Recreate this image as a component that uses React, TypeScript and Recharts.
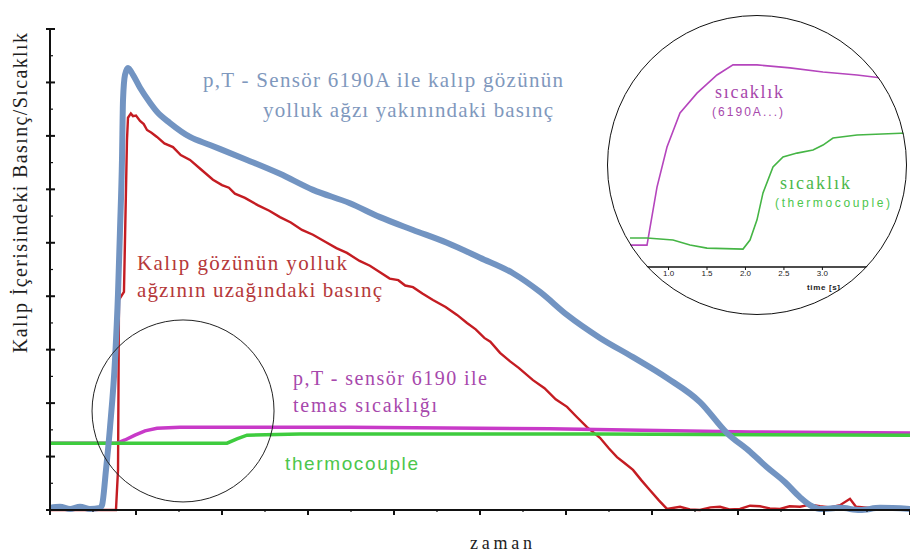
import React from 'react';
import { LineChart, Line, XAxis, YAxis, ReferenceDot } from 'recharts';

// ---------- main chart data (time units 0..10, level units 0..9) ----------
const timeTicks = [0, 0.5, 1, 1.5, 2, 2.5, 3, 3.5, 4, 4.5, 5, 5.5, 6, 6.5, 7, 7.5, 8, 8.5, 9, 9.5, 10];
const levelTicks = [0, 0.5, 1, 1.5, 2, 2.5, 3, 3.5, 4, 4.5, 5, 5.5, 6, 6.5, 7, 7.5, 8, 8.5, 9];

// pressure near the gate (p,T sensor 6190A)
const nearGatePressure: [number, number][] = [
  [0, 0.04], [0.116, 0.06], [0.233, 0.02], [0.349, 0.06], [0.465, 0.02], [0.581, 0.04],
  [0.605, 0.09], [0.651, 0.75], [0.698, 1.55], [0.756, 2.81], [0.791, 4.06], [0.814, 5.24],
  [0.837, 6.55], [0.849, 7.67], [0.872, 8.14], [0.907, 8.27], [0.965, 8.14], [1.047, 7.9],
  [1.163, 7.62], [1.244, 7.45], [1.395, 7.24], [1.628, 6.98], [1.86, 6.83], [2.291, 6.55],
  [2.674, 6.29], [3.058, 5.99], [3.488, 5.74], [3.837, 5.48], [4.221, 5.24], [4.616, 5.0],
  [5.0, 4.72], [5.384, 4.43], [5.698, 4.08], [6.012, 3.65], [6.395, 3.22], [6.779, 2.86],
  [7.174, 2.47], [7.558, 2.02], [7.872, 1.44], [8.14, 1.09], [8.337, 0.8], [8.547, 0.52],
  [8.721, 0.24], [8.86, 0.07], [8.953, 0.02], [9.186, 0.04], [9.419, 0.0], [9.651, 0.04], [10, 0.02],
];

// pressure far from the gate
const farGatePressure: [number, number][] = [
  [0, 0], [0.616, 0], [0.767, 0], [0.791, 0.75], [0.802, 3.93], [0.86, 4.08], [0.895, 6.92],
  [0.907, 7.34], [0.94, 7.42], [0.965, 7.37], [1.0, 7.38], [1.047, 7.28], [1.09, 7.22],
  [1.128, 7.11], [1.18, 7.06], [1.244, 6.98], [1.33, 6.86], [1.43, 6.79], [1.52, 6.64],
  [1.628, 6.55], [1.75, 6.38], [1.895, 6.18], [2.0, 6.08], [2.08, 6.03], [2.15, 5.92],
  [2.267, 5.84], [2.42, 5.7], [2.55, 5.6], [2.674, 5.48], [2.8, 5.38], [2.93, 5.24],
  [3.058, 5.15], [3.2, 5.02], [3.33, 4.9], [3.453, 4.81], [3.6, 4.66], [3.72, 4.57],
  [3.837, 4.45], [3.95, 4.33], [4.05, 4.3], [4.13, 4.2], [4.221, 4.17], [4.33, 4.05],
  [4.453, 3.93], [4.6, 3.8], [4.733, 3.65], [4.849, 3.5], [4.95, 3.38], [5.05, 3.22],
  [5.12, 3.15], [5.233, 2.94], [5.35, 2.78], [5.45, 2.66], [5.616, 2.43], [5.75, 2.28],
  [5.88, 2.07], [6.012, 1.93], [6.12, 1.75], [6.244, 1.55], [6.395, 1.35], [6.5, 1.15],
  [6.593, 0.99], [6.68, 0.88], [6.779, 0.75], [6.88, 0.55], [6.977, 0.37], [7.08, 0.18],
  [7.174, 0.02], [7.326, 0.06], [7.44, 0.01], [7.558, 0], [7.68, 0.05], [7.791, 0.06],
  [7.9, 0.01], [8.023, 0.02], [8.14, 0.08], [8.256, 0.07], [8.37, 0.03], [8.488, 0.02],
  [8.6, 0.07], [8.721, 0.06], [8.84, 0.1], [8.953, 0.07], [9.07, 0.05], [9.186, 0.09],
  [9.302, 0.21], [9.372, 0.06], [9.535, 0.04], [9.767, 0.06], [10, 0.02],
];

// contact temperature (p,T sensor 6190)
const sensorTemperature: [number, number][] = [
  [0, 1.25], [0.779, 1.25], [0.872, 1.31], [0.988, 1.4], [1.105, 1.48], [1.244, 1.53],
  [1.512, 1.55], [3.488, 1.55], [5.814, 1.52], [8.14, 1.46], [10, 1.44],
];

// thermocouple temperature
const thermocoupleTemperature: [number, number][] = [
  [0, 1.25], [2.058, 1.25], [2.174, 1.33], [2.291, 1.4], [2.907, 1.42], [6.395, 1.42], [10, 1.4],
];

const zoomCircle = { t: 1.547, level: 1.853 };

// ---------- inset data (time [s], temperature %) ----------
const insetTicks = [1.0, 1.5, 2.0, 2.5, 3.0];
const insetSensorTemp: [number, number][] = [
  [0.499, 8.7], [0.72, 8.7], [0.85, 31.7], [0.98, 47.6], [1.149, 61.1], [1.37, 69.0],
  [1.63, 76.2], [1.838, 80.2], [2.15, 80.2], [2.579, 79.0], [3.008, 77.4], [3.45, 76.2],
  [3.879, 74.6], [4.139, 73.4],
];
const insetThermoTemp: [number, number][] = [
  [0.499, 11.5], [0.72, 11.5], [1.058, 10.7], [1.279, 8.7], [1.5, 7.5], [1.968, 7.1],
  [2.059, 10.7], [2.15, 18.7], [2.228, 29.4], [2.358, 39.7], [2.488, 43.7], [2.67, 45.2],
  [2.878, 46.4], [3.008, 48.4], [3.138, 51.2], [3.45, 52.4], [4.139, 53.2],
];

const toXY = (arr: [number, number][]) => arr.map(([x, y]) => ({ x, y }));
const toTV = (arr: [number, number][]) => arr.map(([t, v]) => ({ t, v }));

const XTick = (props: any) => {
  const { x, payload } = props;
  const major = Number.isInteger(payload.value);
  return (
    <line x1={x} x2={x} y1={510} y2={major ? 515 : 512} stroke="#111" strokeWidth={major ? 2 : 1.2} />
  );
};

const YTick = (props: any) => {
  const { y, payload } = props;
  const major = Number.isInteger(payload.value);
  return (
    <line x1={major ? 46 : 50} x2={major ? 55 : 53} y1={y} y2={y} stroke="#111" strokeWidth={major ? 2 : 1.2} />
  );
};

const serif = 'Liberation Serif, Times New Roman, serif';
const sans = 'Liberation Sans, Arial, sans-serif';

export default function App() {
  return (
    <div style={{ position: 'absolute', left: 0, top: 0, width: 910, height: 560, background: '#fff' }}>
      <LineChart width={910} height={560} margin={{ top: 29, right: 0, bottom: 0, left: 0 }}>
        <XAxis
          type="number"
          dataKey="x"
          domain={[0, 10]}
          ticks={timeTicks}
          interval={0}
          height={50}
          tickLine={false}
          axisLine={{ stroke: '#111', strokeWidth: 2 }}
          tick={(p: any) => <XTick {...p} />}
        />
        <YAxis
          type="number"
          dataKey="y"
          domain={[0, 9]}
          ticks={levelTicks}
          interval={0}
          width={50}
          tickLine={false}
          axisLine={{ stroke: '#111', strokeWidth: 2 }}
          tick={(p: any) => <YTick {...p} />}
        />
        <Line data={toXY(farGatePressure)} dataKey="y" type="linear" stroke="#c41c22" strokeWidth={2.4} dot={false} isAnimationActive={false} />
        <Line data={toXY(sensorTemperature)} dataKey="y" type="linear" stroke="#c83ac8" strokeWidth={3.5} dot={false} isAnimationActive={false} />
        <Line data={toXY(thermocoupleTemperature)} dataKey="y" type="linear" stroke="#3ecc3e" strokeWidth={3.5} dot={false} isAnimationActive={false} />
        <Line data={toXY(nearGatePressure)} dataKey="y" type="monotone" stroke="#7294c2" strokeWidth={6} strokeLinejoin="round" dot={false} isAnimationActive={false} />
        <ReferenceDot x={zoomCircle.t} y={zoomCircle.level} r={91} fill="none" stroke="#222" strokeWidth={1} />

        <text x={20} y={193} transform="rotate(-90 20 193)" textAnchor="middle" dominantBaseline="central"
          fontFamily={serif} fontSize={20} textLength={320} lengthAdjust="spacing" fill="#1e1e1e">
          Kalıp İçerisindeki Basınç/Sıcaklık
        </text>
        <text x={501} y={543} textAnchor="middle" dominantBaseline="central" fontFamily={serif} fontSize={18}
          textLength={62} lengthAdjust="spacing" fill="#222">zaman</text>

        <text x={203} y={80} dominantBaseline="central" fontFamily={serif} fontSize={21} textLength={360}
          lengthAdjust="spacing" fill="#7f98bd">p,T - Sensör 6190A  ile kalıp gözünün</text>
        <text x={263} y={110} dominantBaseline="central" fontFamily={serif} fontSize={21} textLength={290}
          lengthAdjust="spacing" fill="#7f98bd">yolluk ağzı yakınındaki basınç</text>

        <text x={137} y={263} dominantBaseline="central" fontFamily={serif} fontSize={21} textLength={210}
          lengthAdjust="spacing" fill="#b5383a">Kalıp gözünün yolluk</text>
        <text x={137} y={290} dominantBaseline="central" fontFamily={serif} fontSize={21} textLength={245}
          lengthAdjust="spacing" fill="#b5383a">ağzının uzağındaki basınç</text>

        <text x={293} y={378} dominantBaseline="central" fontFamily={serif} fontSize={20} textLength={194}
          lengthAdjust="spacing" fill="#a748ac">p,T - sensör 6190 ile</text>
        <text x={293} y={405} dominantBaseline="central" fontFamily={serif} fontSize={20} textLength={144}
          lengthAdjust="spacing" fill="#a748ac">temas sıcaklığı</text>

        <text x={285} y={463} dominantBaseline="central" fontFamily={sans} fontSize={19} textLength={133}
          lengthAdjust="spacing" fill="#4cc64c">thermocouple</text>
      </LineChart>

      <div style={{ position: 'absolute', left: 607, top: 15, width: 300, height: 300, borderRadius: '50%', overflow: 'hidden', background: '#fff' }}>
        <LineChart width={300} height={300} margin={{ top: 0, right: 0, bottom: 0, left: 0 }}>
          <XAxis
            type="number"
            dataKey="t"
            domain={[0.2, 4.1]}
            allowDataOverflow
            ticks={insetTicks}
            interval={0}
            height={48}
            tickSize={3}
            tickMargin={0}
            tickFormatter={(v: number) => v.toFixed(1)}
            tick={{ fontSize: 8, fill: '#222', fontFamily: sans }}
            axisLine={{ stroke: '#111', strokeWidth: 1.5 }}
            tickLine={{ stroke: '#111' }}
          />
          <YAxis hide type="number" dataKey="v" domain={[0, 100]} allowDataOverflow />
          <Line data={toTV(insetSensorTemp)} dataKey="v" type="linear" stroke="#b545bd" strokeWidth={1.6} dot={false} isAnimationActive={false} />
          <Line data={toTV(insetThermoTemp)} dataKey="v" type="linear" stroke="#45b545" strokeWidth={1.6} dot={false} isAnimationActive={false} />
          <text x={108} y={77} dominantBaseline="central" fontFamily={serif} fontSize={18} textLength={68}
            lengthAdjust="spacing" fill="#a748ac">sıcaklık</text>
          <text x={105} y={97} dominantBaseline="central" fontFamily={sans} fontSize={12} textLength={71}
            lengthAdjust="spacing" fill="#a748ac">(6190A...)</text>
          <text x={173} y={168} dominantBaseline="central" fontFamily={serif} fontSize={18} textLength={70}
            lengthAdjust="spacing" fill="#4cb84c">sıcaklık</text>
          <text x={168} y={188} dominantBaseline="central" fontFamily={sans} fontSize={12} textLength={115}
            lengthAdjust="spacing" fill="#4cc64c">(thermocouple)</text>
          <text x={200} y={272} dominantBaseline="central" fontFamily={sans} fontSize={8} fontWeight="bold"
            textLength={33} lengthAdjust="spacing" fill="#222">time [s]</text>
        </LineChart>
      </div>
      <div style={{ position: 'absolute', left: 607, top: 15, width: 300, height: 300, borderRadius: '50%', border: '1.5px solid #111', boxSizing: 'border-box', pointerEvents: 'none' }} />
    </div>
  );
}
